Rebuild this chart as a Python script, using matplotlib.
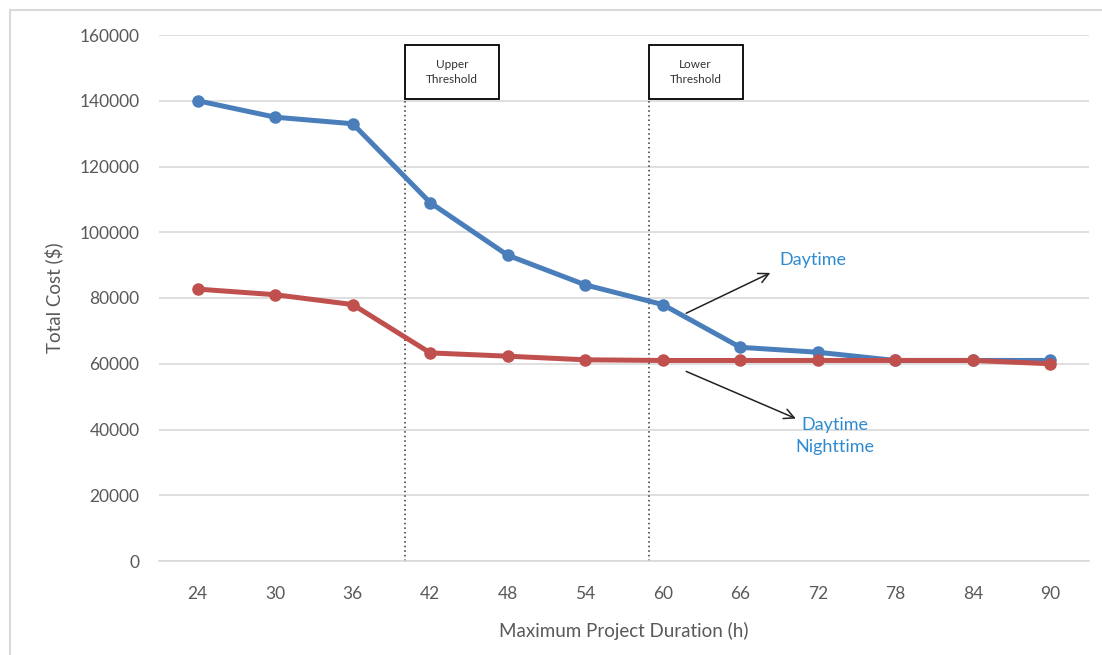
import matplotlib.pyplot as plt
from matplotlib.patches import Rectangle

durations = [24, 30, 36, 42, 48, 54, 60, 66, 72, 78, 84, 90]
daytime = [140000, 135000, 133000, 109000, 93000, 84000, 78000, 65000, 63500, 61000, 61000, 61000]
day_night = [82700, 81000, 78000, 63300, 62300, 61200, 61000, 61000, 61000, 61000, 61000, 60000]
y_ticks = [0, 20000, 40000, 60000, 80000, 100000, 120000, 140000, 160000]

# threshold positions in category units (between ticks)
upper_pos = 2.68
lower_pos = 5.82

plt.rcParams['font.family'] = ['Lato', 'DejaVu Sans']

fig = plt.figure(figsize=(11.02, 6.55), dpi=100)
fig.patches.append(Rectangle((10 / 1102, -0.1), 1.2, 1 - 10 / 655 + 0.1,
                             transform=fig.transFigure, fill=False,
                             edgecolor='#d9d9d9', linewidth=1.5))

ax = fig.add_axes([159 / 1102, 94 / 655, (1089 - 159) / 1102, (561 - 35) / 655])

x = list(range(len(durations)))
blue = '#4a7ebb'
red = '#c0504d'
ax.plot(x, daytime, color=blue, lw=3.6, marker='o', ms=8, zorder=3)
ax.plot(x, day_night, color=red, lw=3.6, marker='o', ms=8, zorder=4)

ax.set_xlim(-0.5, len(durations) - 0.5)
ax.set_ylim(0, 160000)
ax.set_xticks(x)
ax.set_xticklabels([str(d) for d in durations])
ax.set_yticks(y_ticks)
ax.set_yticklabels([str(v) for v in y_ticks])
ax.grid(axis='y', color='#d9d9d9', lw=1.2)
ax.set_axisbelow(True)
for side in ['top', 'right', 'left']:
    ax.spines[side].set_visible(False)
ax.spines['bottom'].set_color('#d9d9d9')
ax.spines['bottom'].set_linewidth(1.2)
ax.tick_params(length=0, labelsize=12.5, colors='#595959')
ax.tick_params(axis='x', pad=18)
ax.tick_params(axis='y', pad=14)

ax.set_xlabel('Maximum Project Duration (h)', fontsize=13.5, color='#595959', labelpad=14)
ax.set_ylabel('Total Cost ($)', fontsize=13.5, color='#595959', labelpad=12)

# threshold markers: dotted line topped by a boxed label
box_w = 1.21
for pos, label in [(upper_pos, 'Upper\nThreshold'), (lower_pos, 'Lower\nThreshold')]:
    ax.plot([pos, pos], [0, 140500], color='#333333', lw=1.1, ls=(0, (1, 2)), zorder=2)
    ax.add_patch(Rectangle((pos, 140500), box_w, 16500, fc='white', ec='black',
                           lw=1.3, zorder=5, clip_on=False))
    ax.text(pos + box_w / 2, 148750, label, ha='center', va='center', fontsize=8.5,
            color='#333333', linespacing=1.45, zorder=6)

# series labels with arrows
label_color = '#2f8bd1'
ax.annotate('', xy=(7.42, 88000), xytext=(6.27, 75000),
            arrowprops=dict(arrowstyle='->', color='#222222', lw=1.1, mutation_scale=18))
ax.text(7.5, 91500, 'Daytime', fontsize=13, color=label_color, ha='left', va='center')
ax.annotate('', xy=(7.75, 43000), xytext=(6.27, 58000),
            arrowprops=dict(arrowstyle='->', color='#222222', lw=1.1, mutation_scale=18))
ax.text(8.22, 38000, 'Daytime\nNighttime', fontsize=13, color=label_color,
        ha='center', va='center', linespacing=1.5)

fig.savefig('out.png', dpi=100)
